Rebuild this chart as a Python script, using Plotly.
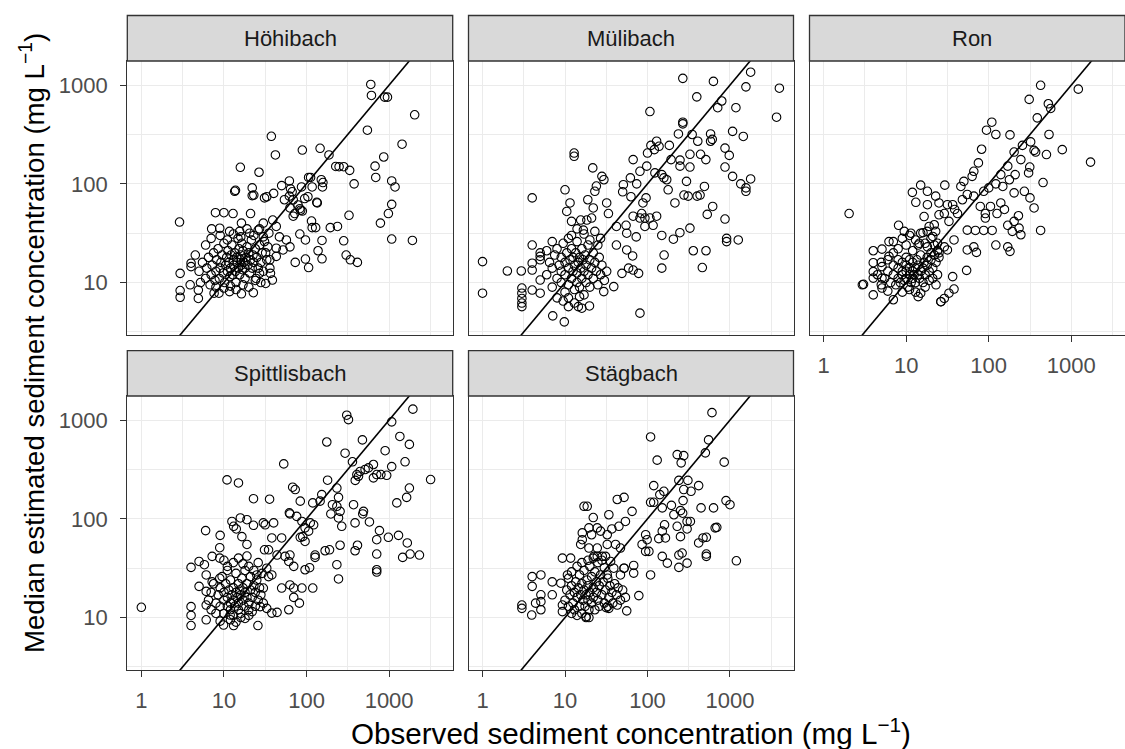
import plotly.graph_objects as go

# ---------------- data (observed mg/L, median estimated mg/L) ----------------
sites = ["Höhibach", "Mülibach", "Ron", "Spittlisbach", "Stägbach"]

hoehibach = [
    (600,1015),(611,785),(885,755),(955,755),(2040,500),(546,349),(1435,252),(37.5,303),(42,196),(89,220),
    (146,229),(187,196),(15.8,147),(26.6,131),(226,150),(248,149),(282,149),(333,137),(377,100),(676,151),
    (861,187),(689,116),(1075,107),(1180,93),(1075,62),(980,50),(785,40),(1075,27.6),(1915,26.7),(327,48),
    (194,36),(237,37),(282,26.5),(154,26.7),(138,21),(154,17.4),(302,19),(339,17),(413,16),(73,16),
    (97,17.3),(106,14.2),(97,27),(83,31),(117,36),(129,36),(115,42),(89,53),(85,54),(133,65),
    (135,64),(117,93),(156,93),(158,103),(151,110),(112,116),(106,116),(87,93),(62,107),(64,89),
    (67,83),(50,96),(40,80),(33,74),(31,72),(22,91),(22,76),(23,77),(13.8,86),(13.5,84),
    (2.9,41),(2.95,12.4),(2.95,8.3),(2.95,7.1),(4,15.7),(4,14.5),(3.9,9.5),(4.9,8.4),(4.9,6.9),(22.7,7.9),
    (16.3,7.7),(11.7,8.1),(8.7,7.8),(7.6,7.8),(32,9.8),(38.6,10.6),(27,12.4),(36.6,12.4),(69,47),(79,61),
    (72,50),(83,56),(95,71),(104,74),(69,69),(62,75),(54,69),(63,57),(39,43),(30,40),
    (43,37),(35,31.6),(47,29),(57,27),(63,23),(43,22.3),(32,20),(36,17),(43,18.4),(52,21.4),
    (7.9,51),(10,51),(12.9,50),(21,50),(16.3,40),(7.1,35),(8.9,35.5),(11.7,33),(15.5,33),(20.5,31.6),(27,35),
    (5,13),(5.5,16),(6,11),(6.2,14),(6.5,18),(6.8,9.5),(7,12),(7.2,15),(7.5,20),(7.8,10.5),
    (8,13),(8.2,17),(8.5,22),(8.8,11),(9,14),(9.2,16),(9.5,19),(9.8,12.5),(10,25),(10.2,10),
    (10.5,15),(10.8,18),(11,13),(11.2,21),(11.5,16),(11.8,11.5),(12,14),(12.2,19),(12.5,24),(12.8,12),
    (13,17),(13.2,15),(13.5,20),(13.8,13),(14,10),(14.2,18),(14.5,16),(14.8,28),(15,14),(15.2,22),
    (15.5,12),(15.8,17),(16,19),(16.2,15),(16.5,25),(16.8,13.5),(17,21),(17.5,16),(18,11),(18,14),
    (18.5,18),(19,23),(19.5,15),(20,20),(20.5,12.5),(21,17),(21.5,27),(22,14),(22.5,19),(23,16),
    (24,22),(24.5,11),(25,18),(26,14),(27,24),(28,16),(29,20),(30,13),(31,26),(33,17),
    (34,23),(36,14),(5.2,10),(4.5,19),(6,24),(7,28),(9,30),(11,27),(13,31),(16,29),
    (19,35),(23,30),(26,34),(30,29),(8,9),(10,8.8),(12,9.2),(14,8.5),(17,9.5),(20,9),(24,10.5),(28,10),
]

muelibach = [
    (268,1170),(630,1090),(1780,1350),(1560,960),(3970,930),(3670,473),(396,760),(795,690),(710,590),(1180,590),
    (107,540),(268,421),(268,405),(237,320),(348,316),(582,320),(610,282),(582,270),(1075,340),(1450,302),
    (407,270),(870,230),(980,194),(870,148),(1075,119),(1350,100),(1560,91),(1560,84),(1780,112),(440,199),
    (510,176),(327,199),(327,148),(248,174),(248,151),(193,176),(184,245),(138,240),(110,245),(129,270),
    (121,222),(100,205),(67,176),(81,134),(98,151),(123,129),(149,124),(171,110),(158,115),(62,115),
    (51,98),(50,83),(63,74),(74,100),(88,64),(96,72),(85,50),(178,87),(215,64),(277,77),
    (311,75),(400,75),(434,77),(490,94),(297,106),(617,59),(530,49),(870,44),(910,28),(910,26),
    (1260,27),(359,21),(512,21),(462,14.2),(159,19),(149,14),(206,27.5),(247,32),(327,35.6),(149,30),
    (67,47),(81,45),(93,45),(107,45),(129,47),(117,38),(93,37),(73,29),(55,38),(56,31.6),
    (42,37),(42,24),(56,21.4),(66,18.6),(59,14),(49,12.4),(67,13.4),(78,12.4),(39,9.1),(29.5,8.1),
    (81,4.9),(12.9,205),(12.9,190),(4,72),(1,16.3),(1,7.8),(2.0,13.1),(2.95,13.1),(3,8.8),(3,7.8),
    (3,6.9),(3,6.2),(3,5.7),(4,24),(5,20),(5,18.4),(5,17),(4,15.7),(4,13.4),(4,8.4),
    (5,10.6),(5,7.8),(7.1,4.6),(9.8,4.0),(14.5,5.7),(16,5.5),(19.8,5.8),(11,5.7),(10,87),(11.5,64),
    (10.5,52.5),(12,41.7),(15.5,43),(18.9,69),(21.7,145),(23,84),(28,119),(29.6,110),(24,95),(32,64),
    (33.6,50),(22,57),(18.4,43),(16.7,34),(21,45),
    (6,12),(6.5,16),(7,9),(7,14),(7.5,19),(8,11),(8,22),(8.5,15),(9,10),(9,13),
    (9,18),(9.5,25),(10,8),(10,12),(10,16),(10.5,20),(11,9.5),(11,14),(11,28),(11.5,17),
    (12,11),(12,22),(12.5,13),(12.5,18),(13,8.5),(13,15),(13.5,20),(14,10),(14,12.5),(14,26),
    (14.5,16),(15,9),(15,18),(15.5,14),(16,11),(16,22),(16.5,17),(17,13),(17,7.5),(17.5,19),
    (18,10),(18,15),(19,24),(19,12),(20,17),(20,9),(21,14),(22,20),(22,11),(23,16),
    (24,13),(25,9.5),(26,18),(27,12),(28,15),(30,10.5),(32,13),(8,7),(9.5,6.5),(11,7),
    (13,6.2),(15,7.2),(12,30),(14,35),(17,31),(20,27),(23,33),(7,26),(6,21),(25,24),(27,28),
]

ron = [
    (425,995),(1215,910),(309,716),(527,647),(563,580),(387,466),(109,421),(94,349),(122,316),(181,313),
    (537,316),(777,222),(1710,166),(256,245),(322,266),(354,218),(370,210),(500,198),(203,210),(245,176),
    (314,148),(304,129),(209,124),(455,103),(82,224),(75,163),(66,134),(63,119),(50,106),(46,94),
    (55,78),(66,75),(87,84),(100,91),(122,100),(140,124),(170,151),(178,110),(148,94),(203,81),
    (270,84),(316,72),(354,57),(425,33.7),(233,35.6),(245,30.5),(203,41.7),(170,38),(193,33),(229,47.5),
    (140,64),(126,50),(155,55),(105,59),(91,45),(79,59),(91,50),(110,33.7),(87,33.7),(69,33.7),
    (55,34),(122,24),(170,23),(181,20.7),(66,23),(55,21.4),(71,20.2),(54,13.3),(38,27),(31.6,21.4),
    (36.6,11.5),(38,8.6),(29,6.9),(26.4,6.4),(2.04,50),(11.9,82),(13.1,65),(15,97),(18.1,84),(18.1,61.5),
    (22.8,75),(25,64),(29.4,97),(31.6,61.5),(36.6,61.5),(38.7,55),(41.9,50),(48,69),(16.5,46.6),(25,48.6),
    (29,50),(33,41.7),(8.1,38),(9.5,33),(11.4,31.6),(15,31.6),(19,37),(21.9,38.5),(22.8,33),(21,29.3),
    (24,25),(29,23),(25,20),(18.1,23),(14.4,25),(4,21),(4,15.9),(4,12.9),(4,11.1),(4,7.5),
    (3.05,9.6),(2.95,9.5),(5.1,21.8),(5.1,14.5),(5.1,11.1),(5.1,8.8),(6.2,26),(6.2,18.4),(7.0,6.7),(14,7.2),
    (26.3,6.4),(33,7.8),
    (5.5,11),(6,13),(6,17),(6.5,10),(7,12),(7,15),(7,20),(7.5,9.5),(8,11),(8,14),
    (8,17),(8.5,10),(9,12),(9,16),(9,13),(9.5,10.5),(10,11),(10,13),(10,15),(10,18),
    (10.5,9),(11,12),(11,14),(11,17),(11.5,10),(12,11),(12,13),(12,16),(12.5,12),(13,14),
    (13,10),(13.5,17),(14,12),(14,15),(14.5,11),(15,13),(15,19),(16,14),(16,10),(16.5,16),
    (17,12),(18,15),(18,18),(19,13),(20,17),(20,20),(21,14),(22,19),(23,16),(24,21),
    (25,18),(19,10.5),(17,9),(21,11),(23,9.5),(24,12),(9,8),(11,8.5),(13,8),(15,7.8),
    (6,8.2),(5,9.5),(4.5,12),(5,16),(8,22),(10,24),(12,21),(14,24),(7,26),(9,28),
    (11,30),(13,27),(17,25),(20,28),(22,24),(16,32),(18,33),
]

spittlisbach = [
    (1,12.7),(307,1120),(322,1010),(1940,1290),(1075,960),(176,600),(475,630),(1350,683),(1760,567),(895,490),
    (293,462),(360,378),(1560,378),(3180,250),(646,355),(562,328),(512,316),(446,302),(407,281),(389,245),
    (426,270),(708,281),(795,281),(935,276),(1075,338),(646,260),(1760,205),(1630,165),(1240,145),
    (180,246),(233,205),(244,165),(233,134),(255,119),(197,112),(153,176),(146,151),(206,139),(244,102),
    (267,84),(371,139),(490,119),(480,112),(578,93),(387,91),(764,76),(980,65),(1300,68),(1660,57),
    (1795,44),(2330,43),(1460,40.7),(708,61.5),(708,44),(708,30.5),(708,28.9),(414,54),(387,47.5),(255,54),
    (233,34.3),(244,24.6),(190,48.6),(168,47.5),(127,43),(127,40.7),(96,30.5),(109,32),(96,59),(106,75),
    (122,87),(88,94),(111,91),(84,151),(119,145),(68,209),(73,198),(62,115),(63,112),(76,106),
    (53,360),(90,66),(96,81),(84,65),(63,43),
    (50,19.9),(63,21.4),(70,19.9),(88,19.9),(119,19.9),(70,16),(82,14),(61,12),(44,11.3),(38,11.1),
    (33,12.4),(27.5,12.9),(25.8,8.3),(30,19.9),(33,31.6),(38,27),(34.7,26),(25,27),(61,37),(70,33),
    (55,41.7),(44,43),(34.7,48.6),(31,48.6),(38,64),(50,64),(31.6,87),(40,91),(30,91),(22.8,86),
    (19,98),(22.8,160),(35.7,158),(15,231),(10.9,248),(9,68),(6,76),(8.9,51),(14.1,79),(16.5,66),
    (19,55),(12.5,94),(15.8,102),(13.1,84),
    (4,32.2),(4,12.9),(4,10.5),(4,8.3),(5,37),(5,20.7),(5.8,34.3),(6.1,27),(6.1,18.4),(6.1,13.4),
    (6.1,9.5),(7.2,41.7),(7.2,23),(8.9,40),(8.9,25),(9.9,8.4),(13.1,8.3),(11.9,10.6),
    (6.5,15),(7,18),(7,12),(7.5,22),(8,14),(8,11),(8.5,17),(9,20),(9,13),(9.5,26),
    (10,15),(10,11),(10,18),(10.5,22),(11,13),(11,16),(11,30),(11.5,19),(12,12),(12,14),
    (12,24),(12.5,17),(13,15),(13,20),(13,10.5),(13.5,13),(14,18),(14,28),(14.5,16),(15,12),
    (15,22),(15,14),(15.5,19),(16,17),(16,11),(16.5,25),(17,15),(17,20),(17.5,13),(18,18),
    (18,30),(19,16),(19,22),(20,14),(20,12),(21,19),(21,26),(22,16),(23,21),(24,13),
    (24,18),(25,24),(26,15),(27,20),(28,17),(29,28),(30,14),(12,9.5),(14,9),(16,10),
    (18,9.8),(20,10.5),(22,11.5),(9,9.2),(11,33),(13,36),(15,40),(17,35),(10,38),(19,42),
    (20,33),(23,30),(26,36),
]

staegbach = [
    (605,1190),(109,675),(550,630),(503,466),(229,447),(275,437),(256,369),(131,393),(851,375),
    (240,245),(309,245),(417,217),(275,198),(337,190),(270,153),(251,121),(209,110),(195,137),
    (119,217),(158,190),(141,176),(109,147),(119,147),(151,129),(446,129),(632,129),(895,153),(1000,139),
    (267,114),(302,94),(331,94),(229,84),(302,79),(251,66),(161,87),(151,75),(137,63),(165,64),
    (95,69),(99,61.5),(86,55),(95,46.8),(104,46.8),(151,41.7),(174,35.6),(240,43),(263,45),(240,32.2),
    (302,35.6),(417,57),(471,64),(517,65),(661,81),(692,82),(517,44),(517,41.7),(1195,37.6),
    (109,27),(68,28.2),(68,33.7),(52,31.6),(78.5,16.7),(56,11.7),(43,13.4),(34,12.4),(31.6,12.6),
    (17,134),(18.6,134),(22,103),(34,110),(43,157),(52,165),(65,119),(54,94),(45,84),(37,79),
    (32.5,69),(27,75),(24.6,81),(21,69),(19.5,81),(16.2,72),(16.2,61.5),(15.5,55),(19.5,50.6),(24.6,50.6),
    (32.5,55),(41,55),(47,50.6),(28.3,41.7),(31,41.7),(24.6,41.7),(22.4,41.7),(35.7,37),(39,31.6),(52,31.6),
    (47,27),(32.5,27),
    (3.0,13.4),(3.0,12.4),(3.95,10.6),(4.0,26),(4.0,20.7),(5.1,27),(5.1,17),(5.1,14.5),(4.4,14),(5.1,12),
    (7.0,23),(7.0,17),(9.3,40),(9.3,13.4),(9.3,11.5),(11.7,40),(10.7,27),(8.9,22.3),
    (10,15),(10.5,19),(11,13),(11,25),(11.5,17),(12,11),(12,21),(12.5,14),(13,18),(13,12),
    (13.5,23),(14,16),(14,10.5),(14.5,20),(15,13),(15,27),(15.5,17),(16,11),(16,22),(16.5,15),
    (17,19),(17,30),(17.5,13),(18,17),(18,10),(18.5,24),(19,15),(19,21),(19.5,12),(20,18),
    (20,33),(21,14),(21,26),(22,16),(22,20),(23,12),(23,29),(24,18),(24,23),(25,15),
    (26,21),(26,13),(27,27),(28,17),(29,23),(30,14),(30,32),(31,19),(33,25),(34,16),
    (35,21),(37,18),(38,14),(40,22),(42,17),(44,20),(47,15),(50,19),(54,16),(18,10.2),
    (19.5,10),(16,36),(19,38),(22,40),(25,36),(14,33),(28,38),(12,29),(33,13),
]

site_data = [hoehibach, muelibach, ron, spittlisbach, staegbach]

tick_vals = [1, 10, 100, 1000]
tick_text = ["1", "10", "100", "1000"]
minor_vals = [3.1623, 31.623, 316.23, 3162.3]
one_to_one = [0.1, 100000]

x_title = "Observed sediment concentration (mg L<sup>−1</sup>)"
y_title = "Median estimated sediment concentration (mg L<sup>−1</sup>)"

# ---------------- layout geometry ----------------
W, H = 1125, 749
FONT = "Liberation Sans, Arial, sans-serif"
col_px = [(127.3, 452.7), (468.5, 793.5), (809.5, 1125.0)]
row_px = [(61.0, 335.0), (396.0, 670.0)]
strip_px = [(15.5, 61.0), (350.7, 396.0)]
XR = [-0.17, 3.77]
YR = [0.469, 3.244]
px_per_dec = (col_px[0][1] - col_px[0][0]) / (XR[1] - XR[0])
panel_w = col_px[0][1] - col_px[0][0]

panels = [(0, 0), (0, 1), (0, 2), (1, 0), (1, 1)]  # (row, col)
show_x = [False, False, True, True, True]
show_y = [True, False, False, True, False]

fig = go.Figure()
layout = dict(
    width=W, height=H, autosize=False,
    margin=dict(l=0, r=0, t=0, b=0),
    paper_bgcolor="white", plot_bgcolor="white",
    showlegend=False,
    font=dict(family=FONT, color="#4D4D4D"),
    shapes=[], annotations=[],
)

for i, (site, pts) in enumerate(zip(sites, site_data)):
    r, c = panels[i]
    n = i + 1
    xa = "x" if n == 1 else f"x{n}"
    ya = "y" if n == 1 else f"y{n}"
    x0, x1 = col_px[c]
    y0, y1 = row_px[r]
    xr = list(XR)
    if c == 2:
        xr = [XR[0], XR[0] + (x1 - x0) / px_per_dec]
    common = dict(
        type="log", showline=True, mirror=True, linecolor="#333333", linewidth=1.3,
        showgrid=True, gridcolor="#EBEBEB", gridwidth=1.4,
        tickmode="array", tickvals=tick_vals, ticktext=tick_text,
        ticklen=6, tickwidth=1.3, tickcolor="#333333",
        tickfont=dict(family=FONT, size=22, color="#4D4D4D"),
        minor=dict(tickmode="array", tickvals=minor_vals, showgrid=True,
                   gridcolor="#EBEBEB", gridwidth=0.8, ticklen=0),
        zeroline=False, fixedrange=True,
    )
    layout["xaxis" if n == 1 else f"xaxis{n}"] = dict(
        common, domain=[x0 / W, x1 / W], range=xr, anchor=ya,
        ticks="outside" if show_x[i] else "", showticklabels=show_x[i],
        ticklabelstandoff=4,
    )
    layout["yaxis" if n == 1 else f"yaxis{n}"] = dict(
        common, domain=[1 - y1 / H, 1 - y0 / H], range=YR, anchor=xa,
        ticks="outside" if show_y[i] else "", showticklabels=show_y[i],
        ticklabelstandoff=8,
    )
    # 1:1 line
    fig.add_trace(go.Scatter(x=one_to_one, y=one_to_one, mode="lines",
                             line=dict(color="black", width=1.6),
                             xaxis=xa, yaxis=ya, hoverinfo="skip"))
    xs = [p[0] for p in pts]
    ys = [p[1] for p in pts]
    fig.add_trace(go.Scatter(x=xs, y=ys, mode="markers", xaxis=xa, yaxis=ya,
                             marker=dict(symbol="circle-open", size=8.5, color="black",
                                         line=dict(width=1.1, color="black"))))
    # strip
    s0, s1 = strip_px[r]
    layout["shapes"].append(dict(type="rect", xref="paper", yref="paper",
                                 x0=x0 / W, x1=min(x1, W + 10) / W,
                                 y0=1 - s1 / H, y1=1 - s0 / H,
                                 fillcolor="#D9D9D9", line=dict(color="#333333", width=1.3),
                                 layer="above"))
    layout["annotations"].append(dict(text=site, xref="paper", yref="paper",
                                      x=(x0 + panel_w / 2) / W,
                                      y=1 - (s0 + s1) / 2 / H,
                                      showarrow=False, xanchor="center", yanchor="middle",
                                      font=dict(family=FONT, size=22, color="#1A1A1A")))

layout["annotations"].append(dict(text=x_title, xref="paper", yref="paper",
                                  x=631 / W, y=1 - 731 / H, showarrow=False,
                                  xanchor="center", yanchor="middle",
                                  font=dict(family=FONT, size=29.6, color="black")))
layout["annotations"].append(dict(text=y_title, xref="paper", yref="paper",
                                  x=33 / W, y=1 - 343 / H, showarrow=False, textangle=-90,
                                  xanchor="center", yanchor="middle",
                                  font=dict(family=FONT, size=27.6, color="black")))

fig.update_layout(**layout)
fig.write_html("out.html", config={"displayModeBar": False},
               post_script="document.body.style.margin='0';document.body.style.overflow='hidden';")
